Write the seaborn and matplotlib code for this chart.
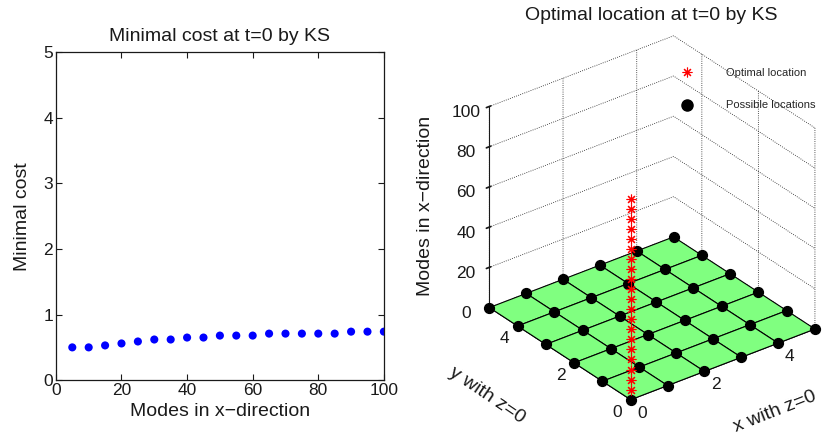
import numpy as np
import pandas as pd
import seaborn as sns
import matplotlib
matplotlib.use('Agg')
import matplotlib.pyplot as plt
from matplotlib.lines import Line2D

# ---- data ----
modes = [5, 10, 15, 20, 25, 30, 35, 40, 45, 50, 55, 60, 65, 70, 75, 80, 85, 90, 95, 100]
min_cost = [0.50, 0.50, 0.53, 0.56, 0.59, 0.62, 0.62, 0.65, 0.65, 0.68,
            0.68, 0.68, 0.71, 0.71, 0.71, 0.71, 0.71, 0.74, 0.74, 0.74]
grid_x = [0, 1, 2, 3, 4, 5]
grid_y = [0, 1, 2, 3, 4, 5]
opt_x = [0] * len(modes)
opt_y = [0] * len(modes)
left_xticks = [0, 20, 40, 60, 80, 100]
left_yticks = [0, 1, 2, 3, 4, 5]
z_ticks = [0, 20, 40, 60, 80, 100]
xy_ticks = [0, 2, 4]

sns.set_theme(style='white')
plt.rcParams['font.family'] = ['Liberation Sans', 'DejaVu Sans']

TICK_FS = 12.5
LAB_FS = 14

fig = plt.figure(figsize=(8.22, 4.4), dpi=100)

# ---- left: minimal cost ----
ax1 = fig.add_axes([0.068, 0.136, 0.399, 0.745])
df = pd.DataFrame({'modes': modes, 'cost': min_cost})
sns.scatterplot(data=df, x='modes', y='cost', ax=ax1, color='#0000ff', s=34,
                edgecolor='none', linewidth=0, legend=False)
ax1.set_xlim(0, 100)
ax1.set_ylim(0, 5)
ax1.set_xticks(left_xticks)
ax1.set_yticks(left_yticks)
ax1.tick_params(direction='in', length=4, width=0.8, top=True, right=True,
                bottom=True, left=True, labelsize=TICK_FS, colors='k', pad=2)
for s in ax1.spines.values():
    s.set_color('k')
    s.set_linewidth(0.9)
ax1.set_xlabel('Modes in x\u2212direction', fontsize=LAB_FS, color='k', labelpad=4)
ax1.set_ylabel('Minimal cost', fontsize=LAB_FS, color='k', labelpad=9)
ax1.set_title('Minimal cost at t=0 by KS', fontsize=LAB_FS, color='k', pad=8)

# ---- right: optimal location 3D ----
ax2 = fig.add_axes([0.5366, 0.0175, 0.5, 0.95], projection='3d', computed_zorder=False)
ax2.set_proj_type('ortho')
ax2.view_init(elev=30, azim=-127.5)
ax2.set_box_aspect((1, 1, 1), zoom=0.95)
X, Y = np.meshgrid(grid_x, grid_y)
Z = np.zeros_like(X, dtype=float)
ax2.plot_surface(X, Y, Z, color=(0.5, 1.0, 0.5), edgecolor='#000000', linewidth=0.8,
                 shade=False, zorder=1)
ax2.scatter(X.ravel(), Y.ravel(), Z.ravel(), c='#000000', s=50, depthshade=False,
            zorder=2)
ax2.plot(opt_x, opt_y, modes, linestyle='none', marker=(8, 2, 0), color='#ff0000',
         ms=7, mew=0.8, zorder=3)
ax2.set_xlim(0, 5)
ax2.set_ylim(0, 5)
ax2.set_zlim(0, 100)
ax2.set_xticks(xy_ticks)
ax2.set_yticks(xy_ticks)
ax2.set_zticks(z_ticks)
for axis in (ax2.xaxis, ax2.yaxis, ax2.zaxis):
    axis.set_pane_color((1, 1, 1, 0))
    axis.pane.set_edgecolor((1, 1, 1, 0))
    axis._axinfo['grid'].update({'linestyle': ':', 'color': 'k', 'linewidth': 0.6})
    axis.line.set_color('k')
    axis.line.set_linewidth(0.8)
ax2.tick_params(labelsize=TICK_FS, colors='k')
ax2.xaxis.set_tick_params(pad=-1)
ax2.yaxis.set_tick_params(pad=-1)
ax2.zaxis.set_tick_params(pad=3)
for t in ax2.xaxis.get_major_ticks():
    t.label1.set_horizontalalignment('left')
    t.label1.set_verticalalignment('center')
for t in ax2.yaxis.get_major_ticks():
    t.label1.set_horizontalalignment('right')
    t.label1.set_verticalalignment('center')

fig.text(775 / 822, 1 - 412 / 440, 'x with z=0', rotation=21.5, ha='center', va='center',
         rotation_mode='anchor', fontsize=LAB_FS, color='k')
fig.text(487 / 822, 1 - 395 / 440, 'y with z=0', rotation=-34, ha='center', va='center',
         rotation_mode='anchor', fontsize=LAB_FS, color='k')
fig.text(425 / 822, 1 - 206 / 440, 'Modes in x\u2212direction', rotation=90, ha='center',
         va='center', fontsize=LAB_FS, color='k')

handles = [Line2D([], [], linestyle='none', marker=(8, 2, 0), color='#ff0000', ms=7, mew=0.8),
           Line2D([], [], linestyle='none', marker='o', color='#000000', ms=8)]
fig.legend(handles, ['Optimal location', 'Possible locations'], loc='upper left',
           bbox_to_anchor=(676 / 822, 0.845), frameon=False, fontsize=8,
           handletextpad=2.5, labelspacing=2.0, borderpad=0, borderaxespad=0)
fig.text(651 / 822, 1 - 15 / 440, 'Optimal location at t=0 by KS', ha='center', va='center',
         fontsize=LAB_FS, color='k')

fig.savefig('out.png', dpi=100)
